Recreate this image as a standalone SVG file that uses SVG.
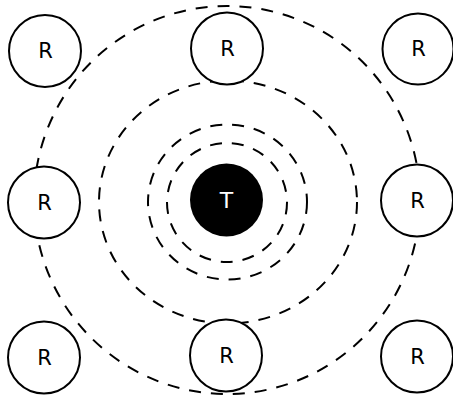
<svg xmlns="http://www.w3.org/2000/svg" width="453" height="395" viewBox="0 0 453 395">
<style>
.ring{fill:none;stroke:#000;stroke-width:2;stroke-dasharray:12 10}
.r circle{fill:#fff;stroke:#000;stroke-width:2}
.r text{font-family:"DejaVu Sans",sans-serif;font-size:21px;text-anchor:middle;fill:#000}
.t circle{fill:#000}
.t text{font-family:"DejaVu Sans",sans-serif;font-size:22px;text-anchor:middle;fill:#fff}
</style>
<rect width="453" height="395" fill="#fff"/>
<g id="connectors">
<ellipse class="ring" cx="227" cy="200" rx="193" ry="194"/>
<ellipse class="ring" cx="228" cy="202" rx="129" ry="121.5"/>
<ellipse class="ring" cx="227.5" cy="202" rx="79.5" ry="77.5"/>
<ellipse class="ring" cx="227" cy="202.5" rx="60" ry="59.5"/>
</g>
<g id="T" class="t"><circle cx="226.5" cy="200" r="36.5"/><text x="226.5" y="208">T</text></g>
<g id="R1" class="r"><circle cx="45" cy="51" r="36"/><text x="45.5" y="58">R</text></g>
<g id="R2" class="r"><circle cx="227" cy="48.5" r="36"/><text x="227.5" y="55.5">R</text></g>
<g id="R3" class="r"><circle cx="418" cy="49" r="35.5"/><text x="418.5" y="56">R</text></g>
<g id="R4" class="r"><circle cx="44" cy="202.5" r="36"/><text x="44.5" y="209.5">R</text></g>
<g id="R5" class="r"><circle cx="417" cy="200.5" r="36"/><text x="417.5" y="207.5">R</text></g>
<g id="R6" class="r"><circle cx="44" cy="357.5" r="36"/><text x="44.5" y="364.5">R</text></g>
<g id="R7" class="r"><circle cx="226" cy="355.5" r="36"/><text x="226.5" y="362.5">R</text></g>
<g id="R8" class="r"><circle cx="417" cy="356.5" r="36"/><text x="417.5" y="363.5">R</text></g>
</svg>
